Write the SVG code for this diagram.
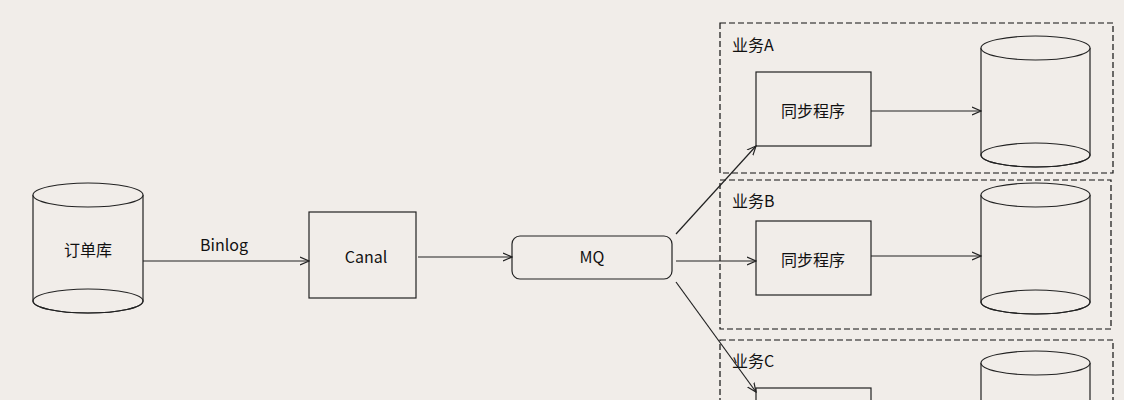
<svg xmlns="http://www.w3.org/2000/svg" width="1124" height="400" viewBox="0 0 1124 400">
<style>
.s{fill:none;stroke:#222;stroke-width:1.2}
.f{fill:#f1ede9;stroke:#222;stroke-width:1.2}
.d{fill:none;stroke:#111;stroke-width:1.2;stroke-dasharray:6 3}
.c{stroke:#222;stroke-width:1.2;fill:none;marker-end:url(#a)}
text{font-family:"Noto Sans CJK SC","Liberation Sans",sans-serif;font-size:16px;fill:#111}
.m{text-anchor:middle;dominant-baseline:middle}
</style>
<defs><marker id="a" markerWidth="10" markerHeight="10" refX="9" refY="5" orient="auto" markerUnits="userSpaceOnUse"><path d="M0,1 L9,5 L0,9" fill="none" stroke="#222" stroke-width="1.2"/></marker></defs>
<rect width="1124" height="400" fill="#f1ede9"/>
<g id="db"><path class="f" d="M33,195 V301 A55,12 0 0 0 143,301 V195"/><ellipse class="s" cx="88" cy="301" rx="55" ry="12"/><ellipse class="f" cx="88" cy="195" rx="55" ry="12"/><text class="m" x="88" y="252">订单库</text></g>
<g id="canal"><rect class="f" x="309" y="212" width="107" height="86"/><text class="m" x="366" y="259">Canal</text></g>
<g id="mq"><rect class="f" x="512" y="236" width="160" height="43" rx="8"/><text class="m" x="592" y="259">MQ</text></g>
<g id="groupA"><rect class="d" x="720" y="23" width="393" height="150"/><text x="732" y="51">业务A</text>
<rect class="f" x="756" y="72" width="115" height="74"/><text class="m" x="813" y="113">同步程序</text>
<path class="f" d="M981,48 V155 A54.5,12 0 0 0 1090,155 V48"/><ellipse class="s" cx="1035.5" cy="155" rx="54.5" ry="12"/><ellipse class="f" cx="1035.5" cy="48" rx="54.5" ry="12"/></g>
<g id="groupB"><rect class="d" x="720" y="180" width="391" height="149"/><text x="732" y="207">业务B</text>
<rect class="f" x="756" y="221" width="115" height="74"/><text class="m" x="813" y="262">同步程序</text>
<path class="f" d="M981,195 V302 A54.5,12 0 0 0 1090,302 V195"/><ellipse class="s" cx="1035.5" cy="302" rx="54.5" ry="12"/><ellipse class="f" cx="1035.5" cy="195" rx="54.5" ry="12"/></g>
<g id="groupC"><rect class="d" x="720" y="340" width="393" height="80"/><text x="732" y="367">业务C</text>
<rect class="f" x="756" y="388" width="115" height="74"/>
<path class="f" d="M981,363 V470 A54.5,12 0 0 0 1090,470 V363"/><ellipse class="f" cx="1035.5" cy="363" rx="54.5" ry="12"/></g>
<g id="connectors">
<path class="c" d="M143,261 H309"/><text class="m" x="224" y="247">Binlog</text>
<path class="c" d="M418,257 H512"/>
<path class="c" d="M676,234 L756,146"/>
<path class="c" d="M676,261 H756"/>
<path class="c" d="M676,282 L756,392"/>
<path class="c" d="M871,111 H981"/>
<path class="c" d="M871,256 H981"/>
</g>
</svg>
